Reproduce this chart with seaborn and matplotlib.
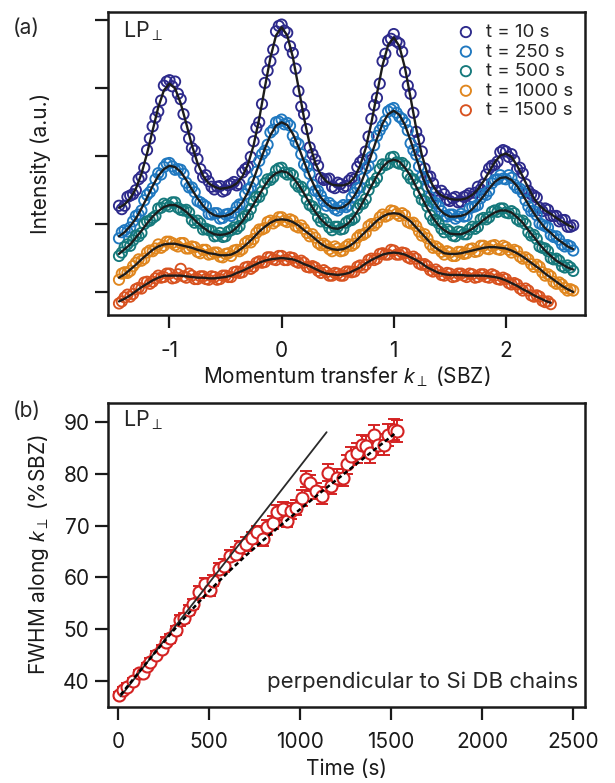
import numpy as np
import pandas as pd
import matplotlib
matplotlib.use("Agg")
import matplotlib.pyplot as plt
import seaborn as sns

sns.set_theme(style="ticks")
plt.rcParams["font.family"] = ["Inter", "DejaVu Sans"]
plt.rcParams["mathtext.fontset"] = "custom"
plt.rcParams["mathtext.rm"] = "Inter"
plt.rcParams["mathtext.it"] = "Liberation Sans:italic"
plt.rcParams["axes.unicode_minus"] = False

# --- DATA: panel (a), line profiles along k_perp ---
# fits and first set of data points on k_grid, second set halfway between
k_grid = np.round(np.arange(-1.45, 2.6001, 0.05), 3)
k_mid = np.round(np.arange(-1.425, 2.5801, 0.05), 3)

labels = ["t = 10 s", "t = 250 s", "t = 500 s", "t = 1000 s", "t = 1500 s"]
colors = ["#2d2a8c", "#1f78c0", "#15797c", "#e0861e", "#d8521f"]

fit_10 = [1.24, 1.29, 1.38, 1.52, 1.74, 2.04, 2.38, 2.72, 2.97, 3.07,
          3.00, 2.78, 2.48, 2.16, 1.90, 1.71, 1.60, 1.55, 1.52, 1.53,
          1.55, 1.60, 1.70, 1.88, 2.16, 2.55, 3.01, 3.45, 3.78, 3.90,
          3.78, 3.46, 3.02, 2.56, 2.18, 1.90, 1.72, 1.63, 1.58, 1.57,
          1.57, 1.60, 1.69, 1.86, 2.12, 2.49, 2.92, 3.34, 3.64, 3.75,
          3.62, 3.30, 2.86, 2.41, 2.02, 1.74, 1.56, 1.45, 1.40, 1.37,
          1.36, 1.36, 1.38, 1.43, 1.51, 1.63, 1.77, 1.91, 2.01, 2.04,
          1.99, 1.86, 1.70, 1.53, 1.38, 1.27, 1.20, 1.15, 1.09, 1.04,
          0.99, 0.95]
obs_10 = [1.27, 1.27, 1.42, 1.50, 1.70, 2.09, 2.44, 2.66, 3.04, 3.12,
          3.10, 2.84, 2.43, 2.12, 1.96, 1.69, 1.63, 1.51, 1.56, 1.50,
          1.59, 1.57, 1.76, 1.84, 2.22, 2.50, 3.08, 3.40, 3.84, 3.94,
          3.82, 3.52, 2.96, 2.62, 2.13, 1.95, 1.68, 1.66, 1.55, 1.61,
          1.54, 1.64, 1.66, 1.91, 2.07, 2.55, 2.86, 3.40, 3.70, 3.80,
          3.66, 3.24, 2.92, 2.36, 2.07, 1.70, 1.60, 1.41, 1.44, 1.34,
          1.40, 1.33, 1.42, 1.40, 1.55, 1.59, 1.82, 1.87, 2.06, 2.07,
          2.03, 1.81, 1.75, 1.49, 1.42, 1.24, 1.23, 1.12, 1.12, 1.06,
          0.96, 0.98]
mid_10 = [1.22, 1.40, 1.44, 1.66, 1.83, 2.26, 2.57, 2.82, 3.10, 3.03,
          2.92, 2.62, 2.26, 2.08, 1.81, 1.72, 1.55, 1.55, 1.48, 1.57,
          1.62, 1.59, 1.81, 1.99, 2.42, 2.77, 3.26, 3.57, 3.92, 3.85,
          3.62, 3.29, 2.73, 2.40, 2.03, 1.86, 1.65, 1.67, 1.53, 1.59,
          1.56, 1.68, 1.84, 1.95, 2.29, 2.75, 3.07, 3.51, 3.73, 3.69,
          3.54, 3.04, 2.64, 2.25, 1.82, 1.70, 1.49, 1.49, 1.36, 1.38,
          1.32, 1.40, 1.45, 1.46, 1.51, 1.73, 1.86, 1.92, 2.09, 1.99,
          1.94, 1.83, 1.59, 1.44, 1.39, 1.19, 1.21, 1.12, 1.04, 1.06,
          0.96]

fit_250 = [0.82, 0.88, 0.97, 1.08, 1.23, 1.39, 1.56, 1.71, 1.81, 1.86,
           1.84, 1.77, 1.65, 1.51, 1.38, 1.27, 1.18, 1.13, 1.11, 1.12,
           1.15, 1.22, 1.32, 1.47, 1.66, 1.89, 2.11, 2.31, 2.45, 2.50,
           2.46, 2.33, 2.14, 1.92, 1.71, 1.53, 1.39, 1.30, 1.24, 1.23,
           1.25, 1.31, 1.42, 1.57, 1.78, 2.02, 2.26, 2.48, 2.62, 2.67,
           2.61, 2.46, 2.23, 1.98, 1.73, 1.51, 1.35, 1.23, 1.15, 1.11,
           1.11, 1.12, 1.15, 1.22, 1.31, 1.41, 1.52, 1.62, 1.68, 1.69,
           1.65, 1.56, 1.43, 1.29, 1.16, 1.04, 0.94, 0.87, 0.79, 0.73,
           0.67, 0.63]
obs_250 = [0.79, 0.91, 0.95, 1.12, 1.20, 1.43, 1.53, 1.75, 1.84, 1.90,
           1.80, 1.80, 1.61, 1.54, 1.34, 1.29, 1.15, 1.16, 1.08, 1.14,
           1.12, 1.25, 1.29, 1.51, 1.63, 1.93, 2.08, 2.35, 2.50, 2.54,
           2.49, 2.30, 2.18, 1.88, 1.74, 1.49, 1.42, 1.27, 1.27, 1.20,
           1.28, 1.28, 1.46, 1.54, 1.82, 1.99, 2.30, 2.45, 2.66, 2.71,
           2.58, 2.49, 2.19, 2.02, 1.70, 1.55, 1.32, 1.26, 1.12, 1.14,
           1.08, 1.15, 1.12, 1.25, 1.28, 1.44, 1.49, 1.65, 1.72, 1.66,
           1.68, 1.53, 1.46, 1.26, 1.19, 1.01, 0.97, 0.84, 0.82, 0.70,
           0.69, 0.61]
mid_250 = [0.88, 0.89, 1.04, 1.14, 1.35, 1.47, 1.66, 1.73, 1.89, 1.85,
           1.81, 1.74, 1.54, 1.47, 1.32, 1.26, 1.14, 1.16, 1.09, 1.15,
           1.17, 1.29, 1.44, 1.54, 1.77, 2.03, 2.17, 2.39, 2.51, 2.47,
           2.45, 2.21, 2.03, 1.84, 1.58, 1.49, 1.34, 1.31, 1.22, 1.25,
           1.25, 1.39, 1.53, 1.67, 1.86, 2.16, 2.38, 2.52, 2.69, 2.64,
           2.55, 2.38, 2.09, 1.85, 1.66, 1.40, 1.31, 1.19, 1.11, 1.14,
           1.11, 1.11, 1.23, 1.26, 1.38, 1.43, 1.60, 1.66, 1.67, 1.72,
           1.58, 1.52, 1.35, 1.19, 1.13, 0.99, 0.95, 0.81, 0.77, 0.67,
           0.67]

fit_500 = [0.56, 0.63, 0.70, 0.80, 0.90, 1.01, 1.11, 1.19, 1.25, 1.28,
           1.28, 1.24, 1.18, 1.10, 1.02, 0.95, 0.89, 0.85, 0.84, 0.85,
           0.88, 0.95, 1.04, 1.16, 1.29, 1.43, 1.57, 1.68, 1.75, 1.78,
           1.76, 1.69, 1.58, 1.45, 1.31, 1.18, 1.07, 0.99, 0.94, 0.93,
           0.96, 1.02, 1.12, 1.25, 1.40, 1.56, 1.71, 1.84, 1.92, 1.95,
           1.92, 1.83, 1.71, 1.55, 1.39, 1.23, 1.09, 0.98, 0.91, 0.86,
           0.85, 0.85, 0.88, 0.93, 0.99, 1.06, 1.12, 1.17, 1.20, 1.20,
           1.17, 1.10, 1.02, 0.91, 0.81, 0.70, 0.61, 0.53, 0.46, 0.41,
           0.36, 0.33]
obs_500 = [0.53, 0.66, 0.68, 0.83, 0.87, 1.04, 1.09, 1.23, 1.30, 1.26,
           1.32, 1.21, 1.21, 1.06, 1.05, 0.92, 0.91, 0.82, 0.87, 0.82,
           0.91, 0.93, 1.08, 1.13, 1.33, 1.40, 1.60, 1.65, 1.79, 1.83,
           1.73, 1.72, 1.55, 1.48, 1.28, 1.21, 1.04, 1.02, 0.91, 0.96,
           0.93, 1.05, 1.09, 1.29, 1.37, 1.60, 1.68, 1.88, 1.89, 1.99,
           1.89, 1.86, 1.67, 1.58, 1.36, 1.26, 1.06, 1.01, 0.88, 0.89,
           0.82, 0.88, 0.85, 0.96, 0.96, 1.09, 1.10, 1.20, 1.23, 1.17,
           1.19, 1.07, 1.05, 0.88, 0.84, 0.67, 0.64, 0.50, 0.49, 0.38,
           0.39, 0.31]
mid_500 = [0.58, 0.70, 0.76, 0.82, 1.00, 1.05, 1.12, 1.24, 1.28, 1.32,
           1.24, 1.20, 1.17, 1.02, 1.01, 0.93, 0.90, 0.83, 0.81, 0.89,
           0.95, 0.97, 1.12, 1.22, 1.40, 1.48, 1.66, 1.69, 1.82, 1.76,
           1.75, 1.60, 1.55, 1.36, 1.26, 1.10, 1.07, 0.95, 0.96, 0.92,
           1.02, 1.06, 1.23, 1.30, 1.50, 1.62, 1.81, 1.87, 1.98, 1.91,
           1.90, 1.73, 1.66, 1.46, 1.34, 1.13, 1.06, 0.93, 0.92, 0.83,
           0.89, 0.85, 0.92, 0.93, 1.07, 1.07, 1.18, 1.18, 1.23, 1.16,
           1.16, 1.04, 1.00, 0.83, 0.78, 0.65, 0.60, 0.48, 0.46, 0.36,
           0.36]

fit_1000 = [0.21, 0.26, 0.33, 0.40, 0.48, 0.55, 0.62, 0.67, 0.70, 0.71,
            0.71, 0.69, 0.67, 0.65, 0.62, 0.60, 0.57, 0.56, 0.54, 0.54,
            0.55, 0.59, 0.65, 0.72, 0.80, 0.89, 0.96, 1.02, 1.06, 1.07,
            1.06, 1.03, 0.98, 0.91, 0.85, 0.78, 0.71, 0.66, 0.63, 0.62,
            0.63, 0.67, 0.73, 0.81, 0.89, 0.97, 1.05, 1.11, 1.15, 1.16,
            1.15, 1.10, 1.04, 0.95, 0.86, 0.77, 0.68, 0.62, 0.57, 0.56,
            0.56, 0.57, 0.59, 0.61, 0.63, 0.65, 0.66, 0.66, 0.65, 0.64,
            0.61, 0.57, 0.52, 0.46, 0.40, 0.34, 0.27, 0.21, 0.15, 0.09,
            0.04, 0.00]
obs_1000 = [0.18, 0.29, 0.31, 0.43, 0.46, 0.58, 0.60, 0.70, 0.68, 0.74,
            0.69, 0.72, 0.64, 0.67, 0.59, 0.62, 0.55, 0.58, 0.52, 0.56,
            0.53, 0.62, 0.63, 0.75, 0.78, 0.92, 0.94, 1.05, 1.04, 1.10,
            1.03, 1.05, 0.95, 0.93, 0.82, 0.80, 0.69, 0.68, 0.60, 0.64,
            0.61, 0.70, 0.71, 0.84, 0.87, 1.00, 1.02, 1.14, 1.13, 1.19,
            1.12, 1.13, 1.01, 0.97, 0.83, 0.79, 0.65, 0.64, 0.55, 0.58,
            0.53, 0.59, 0.57, 0.64, 0.60, 0.68, 0.63, 0.69, 0.62, 0.66,
            0.58, 0.60, 0.49, 0.48, 0.37, 0.37, 0.24, 0.23, 0.12, 0.11,
            0.02, 0.02]
mid_1000 = [0.27, 0.28, 0.38, 0.48, 0.49, 0.61, 0.64, 0.65, 0.74, 0.72,
            0.67, 0.72, 0.64, 0.66, 0.57, 0.62, 0.56, 0.58, 0.51, 0.57,
            0.61, 0.60, 0.72, 0.73, 0.87, 0.92, 1.03, 1.01, 1.10, 1.05,
            1.07, 0.97, 0.98, 0.87, 0.85, 0.72, 0.71, 0.63, 0.67, 0.60,
            0.67, 0.68, 0.80, 0.84, 0.97, 0.98, 1.10, 1.11, 1.20, 1.15,
            1.16, 1.03, 1.02, 0.89, 0.85, 0.70, 0.67, 0.59, 0.60, 0.53,
            0.59, 0.56, 0.63, 0.59, 0.68, 0.64, 0.68, 0.63, 0.68, 0.62,
            0.62, 0.52, 0.51, 0.41, 0.40, 0.29, 0.26, 0.15, 0.14, 0.06,
            0.04]

fit_1500 = [-0.14, -0.10, -0.05, 0.01, 0.07, 0.12, 0.17, 0.21, 0.24, 0.24,
            0.24, 0.24, 0.23, 0.22, 0.21, 0.21, 0.20, 0.20, 0.21, 0.22,
            0.24, 0.28, 0.31, 0.35, 0.39, 0.43, 0.46, 0.48, 0.49, 0.50,
            0.49, 0.48, 0.45, 0.41, 0.38, 0.34, 0.30, 0.27, 0.26, 0.25,
            0.26, 0.28, 0.32, 0.36, 0.42, 0.47, 0.51, 0.55, 0.57, 0.58,
            0.57, 0.55, 0.51, 0.47, 0.42, 0.36, 0.32, 0.28, 0.26, 0.25,
            0.25, 0.25, 0.24, 0.24, 0.24, 0.24, 0.23, 0.22, 0.20, 0.17,
            0.13, 0.09, 0.04, 0.00, -0.05, -0.09, -0.13, -0.16]
obs_1500 = [-0.17, -0.08, -0.07, 0.04, 0.05, 0.15, 0.15, 0.24, 0.22, 0.27,
            0.21, 0.34, 0.21, 0.24, 0.19, 0.23, 0.18, 0.22, 0.19, 0.24,
            0.22, 0.30, 0.29, 0.37, 0.37, 0.45, 0.44, 0.51, 0.47, 0.53,
            0.47, 0.50, 0.43, 0.43, 0.36, 0.36, 0.28, 0.29, 0.24, 0.27,
            0.24, 0.30, 0.30, 0.39, 0.40, 0.49, 0.49, 0.57, 0.55, 0.61,
            0.55, 0.57, 0.49, 0.49, 0.40, 0.38, 0.30, 0.30, 0.24, 0.27,
            0.23, 0.27, 0.22, 0.26, 0.22, 0.26, 0.21, 0.24, 0.18, 0.19,
            0.11, 0.11, 0.02, 0.02, -0.07, -0.07, -0.15, -0.18]
mid_1500 = [-0.14, -0.04, -0.03, 0.06, 0.14, 0.12, 0.20, 0.21, 0.27, 0.20,
            0.26, 0.23, 0.27, 0.19, 0.23, 0.19, 0.23, 0.18, 0.24, 0.22,
            0.29, 0.28, 0.36, 0.34, 0.43, 0.43, 0.51, 0.48, 0.53, 0.47,
            0.51, 0.45, 0.46, 0.37, 0.38, 0.31, 0.32, 0.24, 0.28, 0.24,
            0.30, 0.29, 0.37, 0.36, 0.47, 0.47, 0.56, 0.55, 0.62, 0.55,
            0.58, 0.51, 0.52, 0.42, 0.41, 0.32, 0.33, 0.25, 0.28, 0.22,
            0.27, 0.24, 0.27, 0.21, 0.26, 0.22, 0.26, 0.19, 0.21, 0.13,
            0.13, 0.05, 0.05, -0.05, -0.05, -0.13, -0.14]

fits = [fit_10, fit_250, fit_500, fit_1000, fit_1500]
observations = [obs_10, obs_250, obs_500, obs_1000, obs_1500]
midpoints = [mid_10, mid_250, mid_500, mid_1000, mid_1500]

# --- DATA: panel (b), FWHM vs time ---
time_s = [6, 28, 49, 81, 113, 135, 156, 177, 209, 241, 263, 284, 316, 338,
          359, 391, 412, 444, 476, 502, 519, 551, 583, 615, 647, 669, 701,
          733, 765, 797, 818, 851, 872, 904, 925, 947, 979, 1011, 1032, 1054,
          1086, 1118, 1150, 1171, 1203, 1235, 1257, 1278, 1310, 1342, 1363,
          1385, 1406, 1427, 1460, 1481, 1513, 1534]
fwhm = [37.3, 38.3, 38.9, 39.9, 41.5, 41.6, 42.8, 43.7, 45.0, 46.1, 47.6,
        48.2, 49.8, 51.7, 52.1, 53.7, 54.9, 57.2, 58.8, 57.6, 59.4, 61.7,
        62.3, 64.2, 64.6, 65.8, 66.5, 67.6, 68.7, 67.4, 69.7, 70.6, 72.6,
        73.2, 71.0, 72.9, 73.5, 75.4, 79.0, 78.3, 76.7, 75.8, 80.3, 77.7,
        79.3, 79.3, 81.9, 83.5, 84.1, 85.7, 85.4, 84.1, 87.6, 85.7, 85.7,
        87.6, 88.6, 88.3]
fwhm_err = [0.6, 0.6, 0.7, 0.7, 0.7, 0.8, 0.7, 0.8, 0.8, 0.8, 0.9, 0.9,
            0.9, 1.0, 1.0, 1.0, 1.0, 1.1, 1.1, 1.1, 1.0, 1.1, 1.2, 1.1,
            1.2, 1.2, 1.3, 1.2, 1.3, 1.3, 1.4, 1.3, 1.4, 1.4, 1.3, 1.5, 1.4,
            1.5, 1.5, 1.6, 1.5,
            1.6, 1.7, 1.6, 1.7, 1.7, 1.8, 1.8, 1.9, 1.8, 1.9, 2.0, 1.9, 2.0,
            2.0, 2.1, 2.0, 2.1]
linear_t = [13, 1145]
linear_w = [37.0, 88.1]
growth_t = [13, 100, 200, 300, 400, 500, 600, 700, 800, 900, 1000, 1100,
            1200, 1300, 1400, 1530]
growth_w = [37.3, 41.1, 45.4, 49.6, 53.6, 57.4, 60.9, 64.2, 67.3, 70.3,
            73.2, 76.1, 78.9, 81.7, 84.5, 88.1]

red = "#d42222"

# --- FIGURE ---
fig = plt.figure(figsize=(6.15, 7.83), dpi=100)
ax_a = fig.add_axes([0.176, 0.5977, 0.775, 0.3874])
ax_b = fig.add_axes([0.176, 0.0974, 0.775, 0.3883])

for lab, col, obs, mid in zip(labels, colors, observations, midpoints):
    sns.scatterplot(x=k_grid[:len(obs)], y=obs, ax=ax_a, s=55, marker="o",
                    facecolor="none", edgecolor=col, linewidth=1.35,
                    label=lab, zorder=2)
    sns.scatterplot(x=k_mid[:len(mid)], y=mid, ax=ax_a, s=55, marker="o",
                    facecolor="none", edgecolor=col, linewidth=1.35,
                    zorder=2)
for fit in fits:
    sns.lineplot(x=k_grid[:len(fit)], y=fit, ax=ax_a, color="#1c1c1c",
                 lw=1.7, zorder=3)

ax_a.set_xlim(-1.546, 2.704)
ax_a.set_ylim(-0.34, 4.13)
ax_a.set_xticks([-1, 0, 1, 2])
ax_a.set_yticks([0, 1, 2, 3, 4])
ax_a.set_yticklabels([])
ax_a.set_xlabel(r"Momentum transfer $k_{\perp}$ (SBZ)", fontsize=15)
ax_a.set_ylabel("Intensity (a.u.)", fontsize=15)
ax_a.xaxis.set_label_coords(0.5, -0.165)
ax_a.yaxis.set_label_coords(-0.12, 0.5)
ax_a.text(0.031, 0.975, r"LP$_{\perp}$", transform=ax_a.transAxes,
          fontsize=15.5, va="top", ha="left")
ax_a.legend(loc="upper right", bbox_to_anchor=(1.0, 1.0), frameon=False,
            fontsize=13.5, handlelength=1.0, handletextpad=0.55,
            labelspacing=0.13, borderaxespad=0.35, borderpad=0.3,
            markerscale=1.0)

# panel (b)
ax_b.errorbar(time_s, fwhm, yerr=fwhm_err, fmt="none", ecolor=red,
              elinewidth=1.4, capsize=4.5, capthick=1.4, zorder=2)
sns.scatterplot(x=time_s, y=fwhm, ax=ax_b, s=75, marker="o",
                facecolor="white", edgecolor=red, linewidth=1.5, zorder=3)
sns.lineplot(x=linear_t, y=linear_w, ax=ax_b, color="#2a2a2a", lw=1.3,
             zorder=4)
sns.lineplot(x=growth_t, y=growth_w, ax=ax_b, color="black", lw=1.8,
             linestyle=(0, (1.8, 1.2)), zorder=5)

ax_b.set_xlim(-55, 2564)
ax_b.set_ylim(35.0, 93.8)
ax_b.set_xticks([0, 500, 1000, 1500, 2000, 2500])
ax_b.set_yticks([40, 50, 60, 70, 80, 90])
ax_b.set_xlabel("Time (s)", fontsize=15)
ax_b.set_ylabel(r"FWHM along $k_{\perp}$ (%SBZ)", fontsize=15)
ax_b.xaxis.set_label_coords(0.5, -0.172)
ax_b.yaxis.set_label_coords(-0.12, 0.5)
ax_b.text(0.031, 0.982, r"LP$_{\perp}$", transform=ax_b.transAxes,
          fontsize=15.5, va="top", ha="left")
ax_b.text(0.987, 0.0625, "perpendicular to Si DB chains",
          transform=ax_b.transAxes, fontsize=16, ha="right", va="baseline")

for ax in (ax_a, ax_b):
    for sp in ax.spines.values():
        sp.set_linewidth(1.8)
        sp.set_color("#1a1a1a")
    ax.tick_params(direction="out", length=9.5, width=1.6, color="#1a1a1a",
                   labelsize=15, labelcolor="#1a1a1a")
    ax.tick_params(axis="x", pad=9)
    ax.tick_params(axis="y", pad=4)
    ax.xaxis.label.set_color("#1a1a1a")
    ax.yaxis.label.set_color("#1a1a1a")

fig.text(0.02, 0.977, "(a)", fontsize=15, va="top", ha="left")
fig.text(0.02, 0.488, "(b)", fontsize=15, va="top", ha="left")

fig.savefig("out.png", dpi=100)
